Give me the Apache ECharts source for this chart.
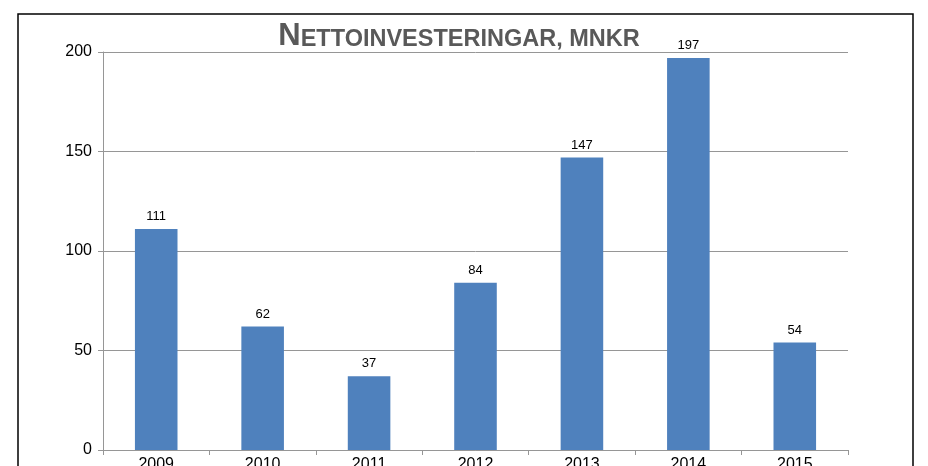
<!DOCTYPE html>
<html>
<head>
<meta charset="utf-8">
<script src="https://cdn.jsdelivr.net/npm/echarts@6/dist/echarts.min.js"></script>
<style>
  html, body { margin: 0; padding: 0; background: #fff; }
  #main { width: 928px; height: 466px; }
</style>
</head>
<body>
<div id="main"></div>
<script>
var years = ["2009", "2010", "2011", "2012", "2013", "2014", "2015"];
var investments = [111, 62, 37, 84, 147, 197, 54];
var yTicks = { min: 0, max: 200, interval: 50 };

var chart = echarts.init(document.getElementById("main"));

var option = {
  animation: false,
  backgroundColor: "#ffffff",
  // rubrik i kapitäler: stor första bokstav, resten mindre
  title: {
    text: "{big|N}{small|ETTOINVESTERINGAR, MNKR}",
    left: 454,
    top: 13,
    textAlign: "center",
    textStyle: {
      rich: {
        big: {
          fontFamily: "Liberation Sans Narrow, Arial Narrow, Liberation Sans",
          fontWeight: "bold",
          fontSize: 31,
          color: "#595959",
          verticalAlign: "bottom",
          lineHeight: 34
        },
        small: {
          fontFamily: "Liberation Sans Narrow, Arial Narrow, Liberation Sans",
          fontWeight: "bold",
          fontSize: 23.5,
          color: "#595959",
          verticalAlign: "bottom",
          lineHeight: 34
        }
      }
    }
  },
  graphic: [
    {
      type: "rect",
      shape: { x: 18, y: 14, width: 895, height: 500 },
      style: { fill: "none", stroke: "#000", lineWidth: 1.5 },
      z: 100
    }
  ],
  grid: {
    left: 103,
    right: 80,
    top: 52,
    bottom: 16,
    containLabel: false,
    outerBoundsMode: "none"
  },
  xAxis: {
    type: "category",
    data: years,
    axisLine: { lineStyle: { color: "#969696", width: 1 } },
    axisTick: { show: true, length: 5, lineStyle: { color: "#969696" } },
    axisLabel: {
      color: "#000",
      fontSize: 16,
      fontFamily: "Liberation Sans, Arial",
      margin: 7
    }
  },
  yAxis: {
    type: "value",
    min: yTicks.min,
    max: yTicks.max,
    interval: yTicks.interval,
    axisLine: { show: true, lineStyle: { color: "#969696", width: 1 } },
    axisTick: { show: true, length: 5, lineStyle: { color: "#969696" } },
    splitLine: { lineStyle: { color: "#969696", width: 1 } },
    axisLabel: {
      color: "#000",
      fontSize: 16,
      fontFamily: "Liberation Sans, Arial",
      margin: 11
    }
  },
  series: [
    {
      type: "bar",
      data: investments,
      barWidth: "40%",
      itemStyle: { color: "#4F81BD" },
      label: {
        show: true,
        position: "top",
        distance: 6,
        color: "#000",
        fontSize: 13,
        fontFamily: "Liberation Sans, Arial"
      }
    }
  ]
};

chart.setOption(option);
</script>
</body>
</html>
